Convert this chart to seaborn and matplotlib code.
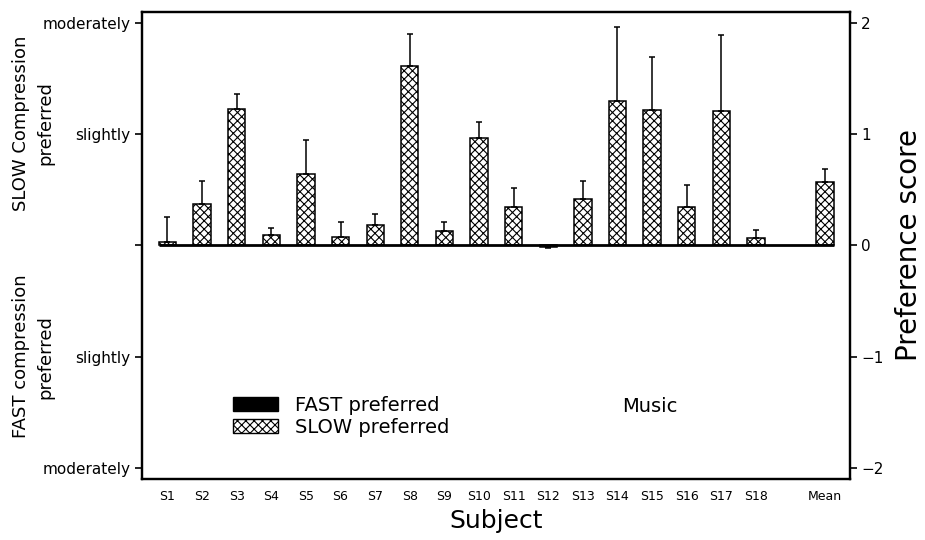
import matplotlib
matplotlib.use("Agg")
import matplotlib.pyplot as plt
import matplotlib.transforms as mtransforms
from matplotlib.patches import Patch
import pandas as pd
import seaborn as sns

subjects = ["S1", "S2", "S3", "S4", "S5", "S6", "S7", "S8", "S9",
            "S10", "S11", "S12", "S13", "S14", "S15", "S16", "S17", "S18"]
scores = [0.03, 0.37, 1.23, 0.09, 0.64, 0.08, 0.18, 1.61, 0.13,
          0.97, 0.35, -0.01, 0.42, 1.30, 1.22, 0.35, 1.21, 0.07]
errors = [0.23, 0.21, 0.13, 0.07, 0.31, 0.13, 0.10, 0.29, 0.08,
          0.14, 0.17, 0.015, 0.16, 0.66, 0.47, 0.19, 0.68, 0.07]
mean_score = 0.57
mean_error = 0.12

y_ticks = [2, 1, 0, -1, -2]
left_labels = ["moderately", "slightly", "", "slightly", "moderately"]
right_labels = ["2", "1", "0", "\u22121", "\u22122"]

labels = subjects + ["Mean"]
values = scores + [mean_score]
errs = errors + [mean_error]
order = subjects + [" ", "Mean"]
df = pd.DataFrame({"Subject": labels, "score": values, "err": errs})

sns.set_style("white")
plt.rcParams["font.family"] = ["DejaVu Sans"]
plt.rcParams["hatch.linewidth"] = 0.8
for key in ["text.color", "axes.labelcolor", "xtick.color", "ytick.color",
            "axes.edgecolor"]:
    plt.rcParams[key] = "black"

fig = plt.figure(figsize=(9.25, 5.4), dpi=100)
ax = fig.add_axes([0.153, 0.113, 0.766, 0.865])

sns.barplot(data=df, x="Subject", y="score", order=order, color="white",
            saturation=1, width=0.5, errorbar=None, edgecolor="black",
            linewidth=1.1, hatch="xxxx", ax=ax)

# one-sided error bars, placed from the bars seaborn drew
xs, hs, lo, hi = [], [], [], []
for p in ax.patches:
    xc = p.get_x() + p.get_width() / 2
    label = order[int(round(xc))]
    row = df.loc[df["Subject"] == label].iloc[0]
    xs.append(xc)
    hs.append(row["score"])
    lo.append(row["err"] if row["score"] < 0 else 0)
    hi.append(row["err"] if row["score"] >= 0 else 0)
ax.errorbar(xs, hs, yerr=[lo, hi], fmt="none", ecolor="black",
            elinewidth=1.1, capsize=2.5, capthick=1.1, zorder=1)

left_edge = min(p.get_x() for p in ax.patches)
right_edge = max(p.get_x() + p.get_width() for p in ax.patches)
ax.hlines(0, left_edge, right_edge, color="black", linewidth=2, zorder=3)

ax.set_xlim(-0.75, 19.72)
ax.set_ylim(-2.1, 2.1)
ax.set_yticks(y_ticks)
ax.set_yticklabels(left_labels, fontsize=11)
tick_pos = [order.index(s) for s in labels]
ax.set_xticks(tick_pos)
ax.set_xticklabels(labels, fontsize=9)
ax.tick_params(axis="y", direction="out", length=5, width=1.2, pad=3)
ax.tick_params(axis="x", direction="in", length=7, width=1.0, pad=8)
for s in ax.spines.values():
    s.set_visible(True)
    s.set_linewidth(1.6)
    s.set_color("black")
ax.set_xlabel("Subject", fontsize=18, labelpad=4)
ax.set_ylabel("")

ax2 = ax.twinx()
ax2.set_ylim(-2.1, 2.1)
ax2.set_yticks(y_ticks)
ax2.set_yticklabels(right_labels, fontsize=11)
ax2.tick_params(axis="y", direction="out", length=5, width=1.2, pad=3)
ax2.set_ylabel("Preference score", fontsize=20, labelpad=8)
for s in ax2.spines.values():
    s.set_linewidth(1.6)

trans = mtransforms.blended_transform_factory(fig.transFigure, ax.transData)
ax.text(0.036, 1.1, "SLOW Compression\npreferred", rotation=90,
        transform=trans, ha="center", va="center", fontsize=13,
        multialignment="center", linespacing=1.5)
ax.text(0.036, -1.0, "FAST compression\npreferred", rotation=90,
        transform=trans, ha="center", va="center", fontsize=13,
        multialignment="center", linespacing=1.5)

handles = [Patch(facecolor="black", edgecolor="black"),
           Patch(facecolor="white", edgecolor="black", hatch="xxxx")]
ax.legend(handles, ["FAST preferred", "SLOW preferred"], loc="upper left",
          bbox_to_anchor=(0.129, 0.178), frameon=False, fontsize=14,
          handlelength=2.3, handleheight=0.7, labelspacing=0.15,
          handletextpad=0.9, borderpad=0, borderaxespad=0)
ax.text(0.678, 0.156, "Music", transform=ax.transAxes, fontsize=14,
        ha="left", va="center")

plt.savefig("out.png", dpi=100)
plt.close()
